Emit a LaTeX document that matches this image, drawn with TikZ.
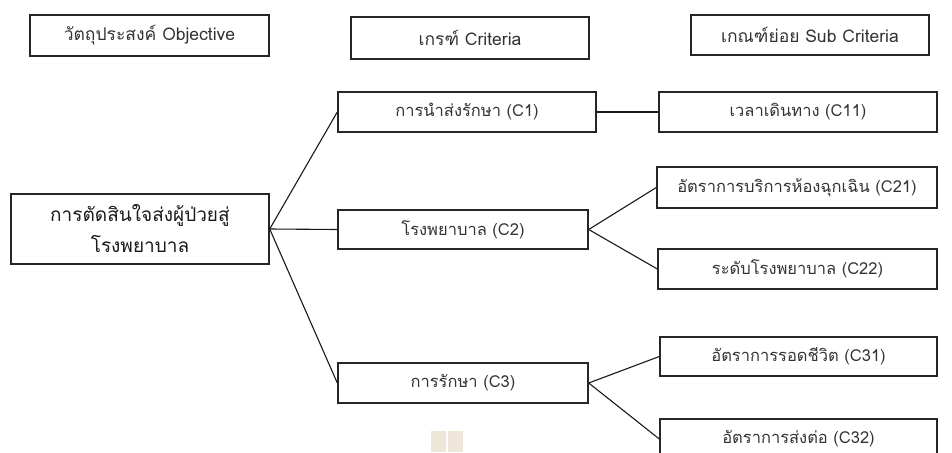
\documentclass[tikz,border=0pt]{standalone}
\usepackage{fontspec}
\setmainfont[Script=Thai]{Loma}
\begin{document}
\begin{tikzpicture}[x=1pt,y=-1pt,
  box/.style={draw=black!85,line width=1.4pt,inner sep=0pt,
    text=black!80,font=\fontsize{16.5}{20}\selectfont},
  head/.style={box,font=\fontsize{17.5}{20}\selectfont},
  link/.style={draw=black!90,line width=1.1pt}]
\useasboundingbox (0,0) rectangle (952,452);
\clip (0,0) rectangle (952,452);
% column headings
\node[head,minimum width=239pt,minimum height=41pt] (hobj) at (149.5,35.5) {วัตถุประสงค์ Objective};
\node[head,minimum width=238pt,minimum height=42pt] (hcri) at (470,38) {เกรฑ์ Criteria};
\node[head,minimum width=238pt,minimum height=40pt] (hsub) at (810,35) {เกณฑ์ย่อย Sub Criteria};
% goal
\node[box,minimum width=258pt,minimum height=70pt,align=center,
  text=black!90,font=\fontsize{19}{31}\selectfont] (goal) at (140,229)
  {การตัดสินใจส่งผู้ป่วยสู่\\โรงพยาบาล};
% criteria
\node[box,minimum width=258pt,minimum height=40pt] (c1) at (467,112) {การนำส่งรักษา (C1)};
\node[box,minimum width=250pt,minimum height=39pt] (c2) at (463,229.5) {โรงพยาบาล (C2)};
\node[box,minimum width=250pt,minimum height=40pt] (c3) at (463,383) {การรักษา (C3)};
% sub criteria
\node[box,minimum width=278pt,minimum height=40pt] (c11) at (798,112) {เวลาเดินทาง (C11)};
\node[box,minimum width=280pt,minimum height=41pt] (c21) at (797,187.5) {อัตราการบริการห้องฉุกเฉิน (C21)};
\node[box,minimum width=279pt,minimum height=40pt] (c22) at (797.5,269) {ระดับโรงพยาบาล (C22)};
\node[box,minimum width=277pt,minimum height=39pt] (c31) at (798.5,356.5) {อัตราการรอดชีวิต (C31)};
\node[box,minimum width=277pt,minimum height=40pt] (c32) at (798.5,439) {อัตราการส่งต่อ (C32)};
% connectors
\draw[link] (goal.east) -- (c1.west);
\draw[link] (goal.east) -- (c2.west);
\draw[link] (goal.east) -- (c3.west);
\draw[link] (c1.east) -- (c11.west);
\draw[link] (c2.east) -- (c21.west);
\draw[link] (c2.east) -- (c22.west);
\draw[link] (c3.east) -- (c31.west);
\draw[link] (c3.east) -- (c32.west);
% faint marks at the bottom edge
\fill[fill={rgb,255:red,238;green,230;blue,216}] (431,431) rectangle (446,452);
\fill[fill={rgb,255:red,238;green,230;blue,216}] (448,431) rectangle (463,452);
\end{tikzpicture}
\end{document}
